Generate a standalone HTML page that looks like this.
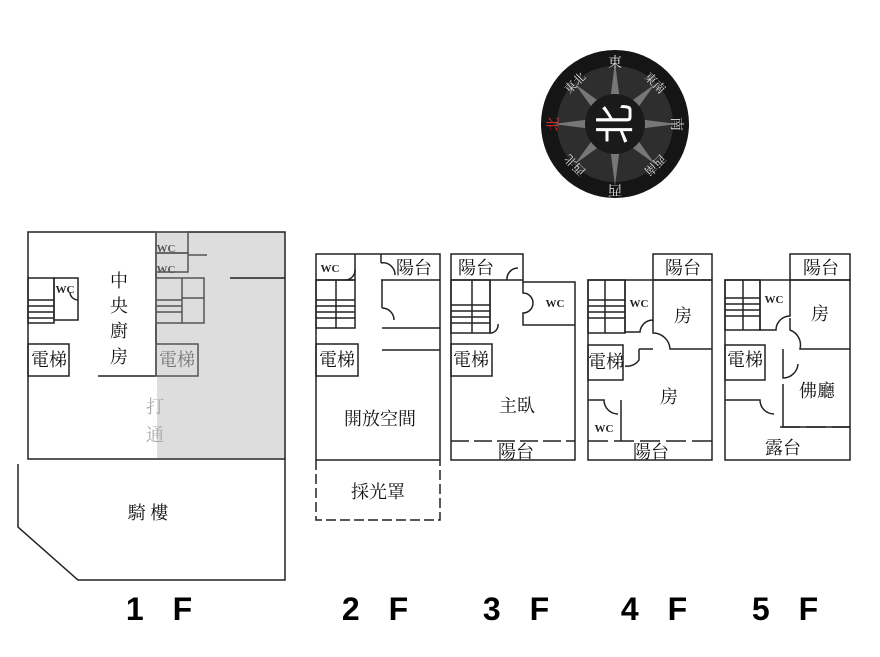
<!DOCTYPE html>
<html><head><meta charset="utf-8"><style>
html,body{margin:0;padding:0;background:#fff;}
svg text{font-family:"Liberation Serif","Noto Serif CJK SC","Noto Sans CJK TC",serif;}
</style></head><body>
<svg width="880" height="652" viewBox="0 0 880 652" xmlns="http://www.w3.org/2000/svg">
<g fill="none" stroke="#222" stroke-width="1.5">
<!-- 1F -->
<rect x="157" y="232" width="128" height="226" fill="#ddd" stroke="none"/>
<rect x="28" y="232" width="257" height="227"/>
<line x1="156" y1="232" x2="156" y2="376"/>
<line x1="98" y1="376" x2="156" y2="376"/>
<rect x="28" y="278" width="26" height="45"/><rect x="54" y="278" width="24" height="42"/>
<line x1="28" y1="300" x2="54" y2="300"/><line x1="28" y1="306" x2="54" y2="306"/><line x1="28" y1="312" x2="54" y2="312"/><line x1="28" y1="318" x2="54" y2="318"/>
<path d="M78 300 A8 8 0 0 1 70 292"/>
<rect x="28" y="344" width="41" height="32"/>
<g stroke="#555"><rect x="156" y="232" width="32" height="21"/><rect x="156" y="253" width="32" height="19"/>
<line x1="188" y1="255" x2="207" y2="255"/>
<rect x="156" y="278" width="48" height="45"/><line x1="182" y1="278" x2="182" y2="323"/><line x1="182" y1="298" x2="204" y2="298"/>
<line x1="156" y1="300" x2="182" y2="300"/><line x1="156" y1="306" x2="182" y2="306"/><line x1="156" y1="312" x2="182" y2="312"/>
<rect x="156" y="344" width="42" height="32"/></g>
<line x1="230" y1="278" x2="285" y2="278"/>
<path d="M18 464 V527 L78 580 H285 V459"/>
<!-- 2F -->
<rect x="316" y="254" width="124" height="206"/>
<line x1="316" y1="280" x2="355" y2="280"/><line x1="355" y1="254" x2="355" y2="280"/>
<line x1="381" y1="280" x2="440" y2="280"/><line x1="381" y1="254" x2="381" y2="263"/>
<path d="M355 269 A10 10 0 0 1 345 280"/><path d="M381 263 A12 12 0 0 1 395 275"/>
<rect x="316" y="280" width="39" height="48"/><line x1="336" y1="280" x2="336" y2="328"/>
<line x1="316" y1="300" x2="355" y2="300"/><line x1="316" y1="306" x2="355" y2="306"/><line x1="316" y1="312" x2="355" y2="312"/><line x1="316" y1="318" x2="355" y2="318"/>
<line x1="382" y1="280" x2="382" y2="308"/><line x1="382" y1="328" x2="440" y2="328"/>
<path d="M382 308 A12 12 0 0 1 394 320"/>
<line x1="382" y1="350" x2="440" y2="350"/>
<rect x="316" y="344" width="42" height="32"/>
<path d="M316 460 V520 H440 V460" stroke-dasharray="10 4"/>
<!-- 3F -->
<path d="M451 254 H523 V282 H575 V460 H451 Z"/>
<line x1="451" y1="280" x2="523" y2="280"/>
<path d="M507 280 A11 11 0 0 1 518 268"/>
<path d="M523 282 V293 A10 10 0 0 1 523 313 V325 H575"/>
<rect x="451" y="280" width="39" height="53"/><line x1="472" y1="280" x2="472" y2="333"/>
<line x1="451" y1="305" x2="490" y2="305"/><line x1="451" y1="311" x2="490" y2="311"/><line x1="451" y1="317" x2="490" y2="317"/><line x1="451" y1="323" x2="490" y2="323"/>
<path d="M490 280 V333 A8 8 0 0 0 498 324"/>
<rect x="451" y="344" width="41" height="32"/>
<line x1="451" y1="441" x2="575" y2="441" stroke-dasharray="18 5"/>
<!-- 4F -->
<rect x="653" y="254" width="59" height="26"/>
<rect x="588" y="280" width="124" height="180"/>
<rect x="588" y="280" width="37" height="53"/><line x1="605" y1="280" x2="605" y2="333"/>
<line x1="588" y1="300" x2="625" y2="300"/><line x1="588" y1="306" x2="625" y2="306"/><line x1="588" y1="312" x2="625" y2="312"/><line x1="588" y1="318" x2="625" y2="318"/>
<path d="M625 280 V332 H640 A13 13 0 0 1 653 320 V280"/>
<path d="M653 320 V333 A17 17 0 0 1 670 349 H712"/>
<path d="M639 349 H653 M639 349 V360 A14 14 0 0 1 625 366"/>
<rect x="588" y="345" width="35" height="35"/>
<path d="M588 400 H604 A14 14 0 0 0 618 414 M621 400 V441"/>
<line x1="588" y1="441" x2="712" y2="441" stroke-dasharray="20 6"/>
<!-- 5F -->
<rect x="790" y="254" width="60" height="26"/>
<rect x="725" y="280" width="125" height="180"/>
<rect x="725" y="280" width="35" height="50"/><line x1="743" y1="280" x2="743" y2="330"/>
<line x1="725" y1="298" x2="760" y2="298"/><line x1="725" y1="304" x2="760" y2="304"/><line x1="725" y1="310" x2="760" y2="310"/><line x1="725" y1="316" x2="760" y2="316"/>
<path d="M760 280 V330 H776 A14 14 0 0 1 790 316 V280"/>
<path d="M790 318 V330 A16 16 0 0 1 800 349 H850"/>
<path d="M783 349 V378 A15 15 0 0 0 798 364 M783 384 V427 H850"/>
<rect x="725" y="345" width="40" height="35"/>
<path d="M725 400 H760 A14 14 0 0 0 774 414"/>
<line x1="780" y1="427" x2="850" y2="427" stroke-dasharray="20 6"/>
</g>
<!-- labels -->
<g font-size="18" fill="#111" text-anchor="middle">
<text x="119" y="287">中</text><text x="119" y="312">央</text><text x="119" y="337">廚</text><text x="119" y="363">房</text>
<text x="49" y="366">電梯</text><text x="177" y="366" fill="#777">電梯</text>
<text x="155" y="413" fill="#aaa">打</text><text x="155" y="441" fill="#aaa">通</text>
<text x="148" y="519">騎 樓</text>
<text x="337" y="366">電梯</text><text x="414" y="274">陽台</text>
<text x="380" y="425">開放空間</text><text x="378" y="498">採光罩</text>
<text x="471" y="366">電梯</text><text x="476" y="274">陽台</text>
<text x="517" y="412">主臥</text><text x="516" y="458">陽台</text>
<text x="606" y="368">電梯</text><text x="683" y="274">陽台</text>
<text x="683" y="322">房</text><text x="669" y="403">房</text><text x="651" y="458">陽台</text>
<text x="745" y="366">電梯</text><text x="821" y="274">陽台</text>
<text x="820" y="320">房</text><text x="817" y="397">佛廳</text><text x="783" y="454">露台</text>
</g>
<g font-size="11" font-weight="bold" fill="#222" text-anchor="middle">
<text x="65" y="293">WC</text><text x="330" y="272">WC</text><text x="555" y="307">WC</text>
<text x="639" y="307">WC</text><text x="604" y="432">WC</text><text x="774" y="303">WC</text>
<text x="166" y="252" fill="#555">WC</text><text x="166" y="273" fill="#555">WC</text>
</g>
<g font-weight="bold" font-size="32" fill="#000" text-anchor="middle" letter-spacing="10">
<text x="164" y="620" style="font-family:'Liberation Sans',sans-serif">1 F</text>
<text x="380" y="620" style="font-family:'Liberation Sans',sans-serif">2 F</text>
<text x="521" y="620" style="font-family:'Liberation Sans',sans-serif">3 F</text>
<text x="659" y="620" style="font-family:'Liberation Sans',sans-serif">4 F</text>
<text x="790" y="620" style="font-family:'Liberation Sans',sans-serif">5 F</text>
</g>
<!-- compass -->
<g transform="translate(615,124)">
<circle r="74" fill="#151515"/>
<circle r="58" fill="#2e2e2e"/>
<g fill="#777">
<polygon points="0,-62 6,-15 0,0 -6,-15"/><polygon points="0,62 6,15 0,0 -6,15"/>
<polygon points="-62,0 -15,6 0,0 -15,-6"/><polygon points="62,0 15,6 0,0 15,-6"/>
<polygon points="40,-40 14,-4 0,0 4,-14"/><polygon points="-40,40 -14,4 0,0 -4,14"/>
<polygon points="40,40 14,4 0,0 4,14"/><polygon points="-40,-40 -14,-4 0,0 -4,-14"/>
</g>
<circle r="30" fill="#1a1a1a"/>
<text x="0" y="14" font-size="40" fill="#fff" text-anchor="middle" transform="rotate(-90)" style="font-family:'Noto Sans CJK SC',sans-serif">北</text>
<g font-size="14" fill="#ddd" text-anchor="middle" style="font-family:'Noto Sans CJK SC',sans-serif">
<text x="0" y="-57">東</text>
<text x="0" y="71" transform="rotate(180 0 66)">西</text>
<text x="62" y="5" transform="rotate(90 62 0)">南</text>
<text x="-62" y="5" fill="#e33" transform="rotate(-90 -62 0)">北</text>
<text x="-40" y="-37" font-size="12" transform="rotate(-45 -40 -41)">東北</text>
<text x="40" y="-37" font-size="12" transform="rotate(45 40 -41)">東南</text>
<text x="40" y="45" font-size="12" transform="rotate(135 40 41)">西南</text>
<text x="-40" y="45" font-size="12" transform="rotate(-135 -40 41)">西北</text>
</g>
</g>
</svg>
</body></html>
